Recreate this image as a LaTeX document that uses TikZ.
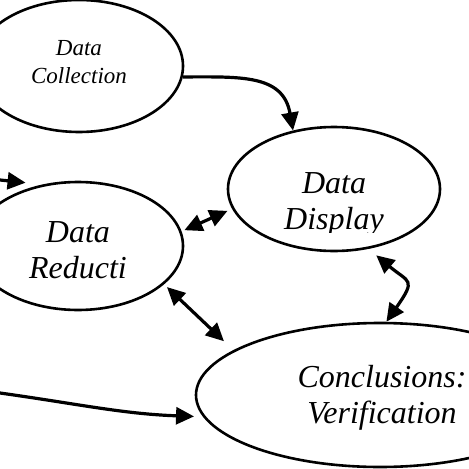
\documentclass[tikz,border=0pt]{standalone}
\usepackage{fontspec}
\setmainfont{Liberation Serif}
\usetikzlibrary{positioning,shapes.geometric,arrows.meta}
\tikzset{
  blob/.style={draw, ellipse, line width=2.6pt, inner sep=0pt},
  words/.style={font=\itshape\fontsize{32}{36}\selectfont, align=center, inner sep=0pt},
  smallwords/.style={font=\itshape\fontsize{23}{28}\selectfont, align=center, inner sep=0pt},
  arr/.style={line width=3.2pt, -{Triangle[length=18pt,width=17pt]}},
  dbl/.style={line width=3.2pt, {Triangle[length=18pt,width=17pt]}-{Triangle[length=18pt,width=17pt]}}
}

\begin{document}
\begin{tikzpicture}
  \useasboundingbox (0,0) rectangle (469pt,-469pt);
  \clip (0,0) rectangle (469pt,-469pt);

  % the four ellipses
  \node[blob, minimum width=208pt, minimum height=132pt] (Collect) at (79pt,-66pt) {};
  \node[on grid, below right=123pt and 255pt of Collect, blob,
  minimum width=212pt, minimum height=124pt] (Display) {};
  \node[on grid, below left=180pt and 1pt of Collect, blob,
  minimum width=210pt, minimum height=128pt] (Reduct) {};
  \node[on grid, below right=206pt and 46pt of Display, blob,
  minimum width=368pt, minimum height=144pt] (Concl) {};

  % their texts
  \node[on grid, above=4pt of Collect, smallwords] (CollectTxt) {Data\\Collection};
  \begin{scope}
    \clip (Display.west |- Display.north) rectangle ([yshift=-43pt]Display.east);
    \node[on grid, below=15pt of Display, words] (DisplayTxt) {Data\\Display};
  \end{scope}
  \node[on grid, below=4pt of Reduct, words] (ReductTxt) {Data\\Reducti};
  \node[on grid, below right=3pt and 2pt of Concl, words] (ConclTxt) {Conclusions:\\Verification};

  % arrows
  \coordinate (InA) at (0,-180pt);
  \coordinate (InB) at (0,-393pt);
  \draw[arr] (Collect.-6) to[out=0,in=100,looseness=1.2] (Display.125);
  \draw[arr, shorten >=17pt] (InA) -- (Reduct.120);
  \draw[dbl, shorten <=3pt, shorten >=5pt] (Reduct.8) -- (Display.191);
  \draw[dbl, shorten <=4pt, shorten >=13pt] (Reduct.-24) -- (Concl.163);
  \draw[dbl, shorten <=10pt] (Display.-60) to[out=-40,in=55,looseness=1.8] (Concl.85);
  \draw[arr, shorten >=9pt] (InB) to[out=-8,in=178] (Concl.187);
\end{tikzpicture}
\end{document}
